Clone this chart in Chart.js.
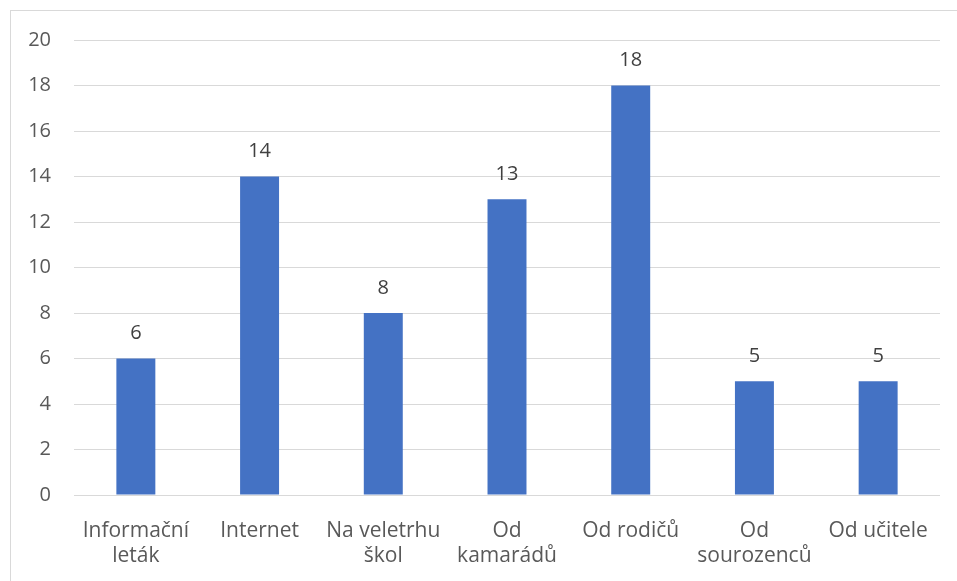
<!DOCTYPE html>
<html>
<head>
<meta charset="utf-8">
<script src="https://cdn.jsdelivr.net/npm/chart.js@4"></script>
<style>
  body { margin: 0; background: #fff; }
  #wrap { position: relative; width: 957px; height: 581px; overflow: hidden; }
  #frame { position: absolute; left: 10px; top: 10px; width: 1000px; height: 700px; border: 1px solid #d9d9d9; }
  canvas { position: absolute; left: 0; top: 0; }
</style>
</head>
<body>
<div id="wrap">
  <div id="frame"></div>
  <canvas id="myChart" width="957" height="581"></canvas>
</div>
<script>
var categories = [
    ['Informační', 'leták'],
    'Internet',
    ['Na veletrhu', 'škol'],
    ['Od', 'kamarádů'],
    'Od rodičů',
    ['Od', 'sourozenců'],
    'Od učitele'
];
var values = [6, 14, 8, 13, 18, 5, 5];
var yTicks = [0, 2, 4, 6, 8, 10, 12, 14, 16, 18, 20];

// draws the numbers above the bars
var barLabels = {
    id: 'barLabels',
    afterDatasetsDraw: function(chart) {
        var ctx = chart.ctx;
        var meta = chart.getDatasetMeta(0);
        ctx.save();
        ctx.font = '20px "Open Sans"';
        ctx.fillStyle = '#404040';
        ctx.textAlign = 'center';
        ctx.textBaseline = 'middle';
        meta.data.forEach(function(bar, i) {
            ctx.fillText(values[i], bar.x, bar.y - 25);
        });
        ctx.restore();
    }
};

var ctx = document.getElementById('myChart').getContext('2d');
var myChart = new Chart(ctx, {
    type: 'bar',
    data: {
        labels: categories,
        datasets: [{
            data: values,
            backgroundColor: '#4472C4',
            categoryPercentage: 1,
            barPercentage: 0.315
        }]
    },
    options: {
        responsive: false,
        animation: false,
        layout: { padding: { top: 40, right: 17, left: 0, bottom: 0 } },
        plugins: {
            legend: { display: false },
            tooltip: { enabled: false }
        },
        scales: {
            x: {
                grid: { display: false },
                border: { display: false },
                ticks: {
                    color: '#595959',
                    font: { family: 'Open Sans', size: 21, lineHeight: 1.22 },
                    maxRotation: 0,
                    autoSkip: false,
                    padding: 15
                },
                afterFit: function(scale) { scale.height = 86; }
            },
            y: {
                min: 0,
                max: 20,
                afterBuildTicks: function(scale) {
                    scale.ticks = yTicks.map(function(v) { return { value: v }; });
                },
                grid: { color: '#d9d9d9', lineWidth: 1, drawTicks: false },
                border: { display: false },
                ticks: {
                    color: '#595959',
                    font: { family: 'Open Sans', size: 20 },
                    padding: 23
                },
                afterFit: function(scale) { scale.width = 74; }
            }
        }
    },
    plugins: [barLabels]
});
</script>
</body>
</html>
